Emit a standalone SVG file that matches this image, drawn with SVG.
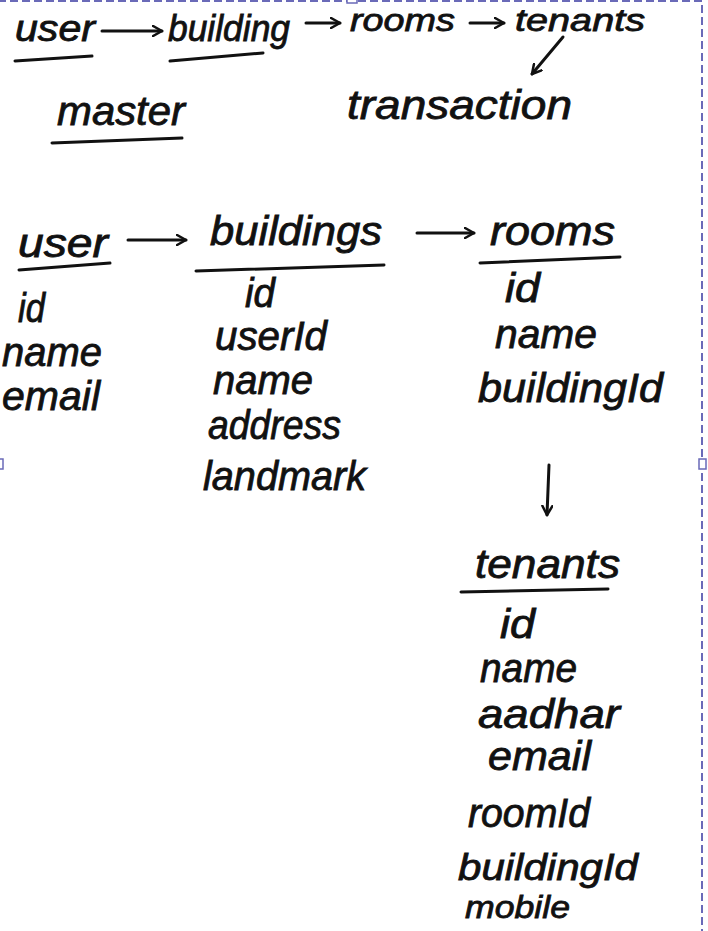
<svg xmlns="http://www.w3.org/2000/svg" width="708" height="931" viewBox="0 0 708 931">
<defs>
<marker id="ah" viewBox="0 0 12 12" refX="10" refY="6" markerWidth="12" markerHeight="12" markerUnits="userSpaceOnUse" orient="auto">
<path d="M1,1 L10,6 L1,11" fill="none" stroke="#111" stroke-width="2.5" stroke-linecap="round" stroke-linejoin="round"/>
</marker>
<style>
text{font-family:"Liberation Sans","DejaVu Sans",sans-serif;font-size:40px;fill:#111;stroke:#111;stroke-width:0.8;font-style:italic}
text.t{font-size:36px}
text.s{font-size:32px}
.u{stroke:#111;stroke-width:3;fill:none;stroke-linecap:round}
.c{stroke:#111;stroke-width:3;fill:none;stroke-linecap:round;marker-end:url(#ah)}
.sel{fill:none;stroke:#6a6ab8;stroke-width:2;stroke-dasharray:8 4}
.h{fill:#fff;stroke:#6a6ab8;stroke-width:1.5}
</style>
</defs>
<rect width="708" height="931" fill="#fff"/>
<g id="selection">
<rect class="sel" x="-2" y="1" width="704" height="940"/>
<rect class="h" x="-4" y="459" width="7" height="10"/>
<rect class="h" x="699" y="459" width="7" height="10"/>
<rect class="h" x="347" y="-4" width="10" height="7"/>
</g>
<g id="connectors">
<path class="c" d="M102,31 L162,31"/>
<path class="c" d="M306,23 L340,23"/>
<path class="c" d="M470,23 L504,23"/>
<path class="c" d="M563,37 L532,74"/>
<path class="c" d="M128,240 L186,240"/>
<path class="c" d="M417,233 L474,233"/>
<path class="c" d="M549,465 L547,515"/>
</g>
<g id="top-user"><text class="t" x="15" y="41" textLength="80" lengthAdjust="spacingAndGlyphs">user</text><path class="u" d="M15,61 L92,56"/></g>
<g id="top-building"><text class="t" x="168" y="41" textLength="122" lengthAdjust="spacingAndGlyphs">building</text><path class="u" d="M170,61 L263,53"/></g>
<g id="top-rooms"><text class="s" x="350" y="31" textLength="105" lengthAdjust="spacingAndGlyphs">rooms</text></g>
<g id="top-tenants"><text class="s" x="515" y="31" textLength="130" lengthAdjust="spacingAndGlyphs">tenants</text></g>
<g id="master"><text x="57" y="125" textLength="128" lengthAdjust="spacingAndGlyphs">master</text><path class="u" d="M52,143 L182,138"/></g>
<g id="transaction"><text x="347" y="119" textLength="225" lengthAdjust="spacingAndGlyphs">transaction</text></g>
<g id="user">
<text x="18" y="257" textLength="90" lengthAdjust="spacingAndGlyphs">user</text>
<path class="u" d="M19,270 L110,263"/>
<text x="18" y="322" textLength="27" lengthAdjust="spacingAndGlyphs">id</text>
<text x="2" y="366" textLength="100" lengthAdjust="spacingAndGlyphs">name</text>
<text x="2" y="410" textLength="98" lengthAdjust="spacingAndGlyphs">email</text>
</g>
<g id="buildings">
<text x="210" y="245" textLength="172" lengthAdjust="spacingAndGlyphs">buildings</text>
<path class="u" d="M196,271 L384,265"/>
<text x="245" y="307" textLength="30" lengthAdjust="spacingAndGlyphs">id</text>
<text x="215" y="350" textLength="112" lengthAdjust="spacingAndGlyphs">userId</text>
<text x="213" y="394" textLength="100" lengthAdjust="spacingAndGlyphs">name</text>
<text x="208" y="439" textLength="133" lengthAdjust="spacingAndGlyphs">address</text>
<text x="203" y="490" textLength="163" lengthAdjust="spacingAndGlyphs">landmark</text>
</g>
<g id="rooms">
<text x="490" y="245" textLength="125" lengthAdjust="spacingAndGlyphs">rooms</text>
<path class="u" d="M480,263 L620,257"/>
<text x="505" y="302" textLength="35" lengthAdjust="spacingAndGlyphs">id</text>
<text x="495" y="348" textLength="102" lengthAdjust="spacingAndGlyphs">name</text>
<text x="478" y="402" textLength="185" lengthAdjust="spacingAndGlyphs">buildingId</text>
</g>
<g id="tenants">
<text x="475" y="578" textLength="145" lengthAdjust="spacingAndGlyphs">tenants</text>
<path class="u" d="M461,592 L608,589"/>
<text x="500" y="638" textLength="35" lengthAdjust="spacingAndGlyphs">id</text>
<text x="480" y="682" textLength="97" lengthAdjust="spacingAndGlyphs">name</text>
<text x="478" y="728" textLength="142" lengthAdjust="spacingAndGlyphs">aadhar</text>
<text x="488" y="770" textLength="103" lengthAdjust="spacingAndGlyphs">email</text>
<text x="468" y="827" textLength="122" lengthAdjust="spacingAndGlyphs">roomId</text>
<text class="t" x="458" y="880" textLength="180" lengthAdjust="spacingAndGlyphs">buildingId</text>
<text class="s" x="465" y="918" textLength="105" lengthAdjust="spacingAndGlyphs">mobile</text>
</g>
</svg>
